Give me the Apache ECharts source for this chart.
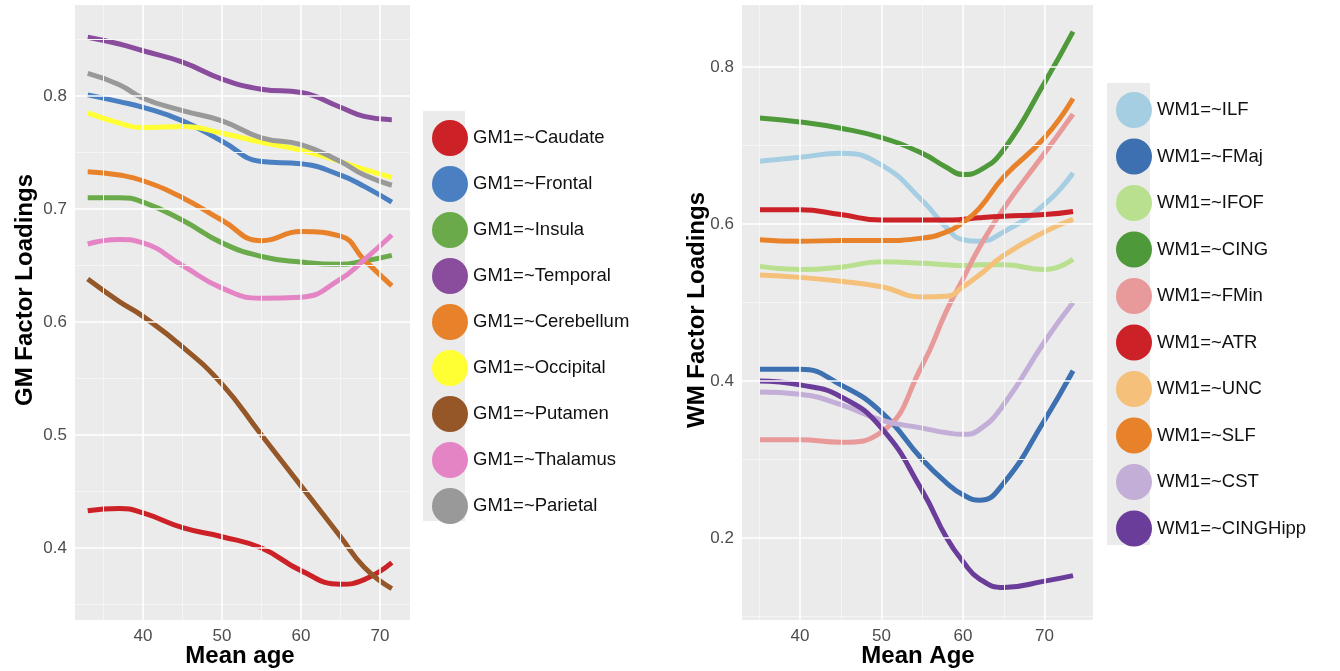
<!DOCTYPE html>
<html>
<head>
<meta charset="utf-8">
<script src="https://cdn.jsdelivr.net/npm/echarts@6/dist/echarts.min.js"></script>
<style>html,body{margin:0;padding:0;background:#fff}#main{width:1340px;height:671px}</style>
</head>
<body>
<div id="main"></div>
<script>
// left panel: grey matter
var gmAges = [33, 37, 40, 45, 50, 55, 60, 65, 68, 71.5]
var gmNames = ['GM1=~Caudate', 'GM1=~Frontal', 'GM1=~Insula', 'GM1=~Temporal', 'GM1=~Cerebellum',
    'GM1=~Occipital', 'GM1=~Putamen', 'GM1=~Thalamus', 'GM1=~Parietal']
var gmColors = ['#cc2127', '#4a7fc1', '#6aaa4b', '#8a4d9e', '#e8822a', '#ffff33', '#955628', '#e584c4', '#999999']
var gmCaudate = [0.433, 0.435, 0.431, 0.418, 0.41, 0.40, 0.38, 0.368, 0.372, 0.387]
var gmFrontal = [0.801, 0.795, 0.79, 0.778, 0.76, 0.742, 0.74, 0.73, 0.72, 0.706]
var gmInsula = [0.71, 0.71, 0.706, 0.69, 0.67, 0.658, 0.653, 0.651, 0.654, 0.659]
var gmTemporal = [0.852, 0.846, 0.84, 0.83, 0.815, 0.806, 0.803, 0.79, 0.782, 0.779]
var gmCerebellum = [0.733, 0.73, 0.725, 0.71, 0.69, 0.672, 0.68, 0.676, 0.655, 0.632]
var gmOccipital = [0.785, 0.776, 0.772, 0.773, 0.767, 0.759, 0.752, 0.742, 0.735, 0.728]
var gmPutamen = [0.638, 0.618, 0.605, 0.578, 0.545, 0.50, 0.455, 0.41, 0.383, 0.364]
var gmThalamus = [0.669, 0.673, 0.67, 0.65, 0.63, 0.621, 0.622, 0.638, 0.655, 0.677]
var gmParietal = [0.82, 0.81, 0.798, 0.787, 0.778, 0.763, 0.757, 0.742, 0.73, 0.721]
var gmValues = [gmCaudate, gmFrontal, gmInsula, gmTemporal, gmCerebellum, gmOccipital, gmPutamen, gmThalamus, gmParietal]

// right panel: white matter
var wmAges = [35, 40, 45, 50, 55, 58, 60, 62, 65, 70, 73.5]
var wmNames = ['WM1=~ILF', 'WM1=~FMaj', 'WM1=~IFOF', 'WM1=~CING', 'WM1=~FMin',
    'WM1=~ATR', 'WM1=~UNC', 'WM1=~SLF', 'WM1=~CST', 'WM1=~CINGHipp']
var wmColors = ['#a6cee3', '#3c70b0', '#b8e08e', '#4e9a3a', '#e89a9a', '#cc2127', '#f4c07a', '#e8822a', '#c2aed6', '#6a3d9a']
var wmILF = [0.68, 0.685, 0.69, 0.675, 0.63, 0.595, 0.58, 0.578, 0.59, 0.625, 0.665]
var wmFMaj = [0.415, 0.415, 0.395, 0.36, 0.30, 0.27, 0.255, 0.248, 0.27, 0.35, 0.413]
var wmIFOF = [0.546, 0.542, 0.545, 0.552, 0.55, 0.548, 0.547, 0.548, 0.548, 0.542, 0.555]
var wmCING = [0.735, 0.73, 0.722, 0.71, 0.69, 0.672, 0.663, 0.668, 0.695, 0.78, 0.845]
var wmFMin = [0.325, 0.325, 0.322, 0.335, 0.42, 0.49, 0.53, 0.57, 0.62, 0.69, 0.74]
var wmATR = [0.618, 0.618, 0.612, 0.605, 0.605, 0.605, 0.606, 0.608, 0.61, 0.612, 0.616]
var wmUNC = [0.535, 0.532, 0.527, 0.52, 0.507, 0.508, 0.52, 0.535, 0.56, 0.59, 0.606]
var wmSLF = [0.58, 0.578, 0.579, 0.579, 0.582, 0.59, 0.602, 0.62, 0.66, 0.71, 0.76]
var wmCST = [0.386, 0.383, 0.37, 0.35, 0.34, 0.334, 0.332, 0.338, 0.37, 0.45, 0.5]
var wmCINGHipp = [0.4, 0.395, 0.38, 0.34, 0.26, 0.2, 0.17, 0.148, 0.137, 0.145, 0.152]
var wmValues = [wmILF, wmFMaj, wmIFOF, wmCING, wmFMin, wmATR, wmUNC, wmSLF, wmCST, wmCINGHipp]

var gmTicks = [0.4, 0.5, 0.6, 0.7, 0.8]
var gmMinor = [0.35, 0.45, 0.55, 0.65, 0.75, 0.85]
var wmTicks = [0.2, 0.4, 0.6, 0.8]
var wmMinor = [0.1, 0.3, 0.5, 0.7]
var ageTicks = [40, 50, 60, 70]
var ageMinor = [35, 45, 55, 65]

function pairs(xs, ys) { return xs.map(function (x, i) { return [x, ys[i]] }) }

var labelStyle = { color: '#4d4d4d', fontSize: 17, fontFamily: 'Liberation Sans' }
function xAxisFor(idx, min, max) {
    return {
        type: 'value', gridIndex: idx, min: min, max: max,
        axisLine: { show: false }, axisTick: { show: false }, splitLine: { show: false },
        axisLabel: Object.assign({ customValues: ageTicks, margin: 8 }, labelStyle)
    }
}
function yAxisFor(idx, min, max, ticks) {
    return {
        type: 'value', gridIndex: idx, min: min, max: max,
        axisLine: { show: false }, axisTick: { show: false }, splitLine: { show: false },
        axisLabel: Object.assign({ customValues: ticks, margin: 8,
            formatter: function (v) { return v.toFixed(1) } }, labelStyle)
    }
}

// grid lines drawn as mark lines on an empty series per panel
function gridLines(idx, xMajor, xMinor, yMajor, yMinor) {
    var d = []
    xMinor.forEach(function (v) { d.push({ xAxis: v, lineStyle: { color: '#f5f5f5', width: 1 } }) })
    yMinor.forEach(function (v) { d.push({ yAxis: v, lineStyle: { color: '#f5f5f5', width: 1 } }) })
    xMajor.forEach(function (v) { d.push({ xAxis: v, lineStyle: { color: '#fff', width: 1.6 } }) })
    yMajor.forEach(function (v) { d.push({ yAxis: v, lineStyle: { color: '#fff', width: 1.6 } }) })
    return { type: 'line', xAxisIndex: idx, yAxisIndex: idx, data: [], z: 1, silent: true,
        markLine: { symbol: 'none', silent: true, label: { show: false }, animation: false,
            lineStyle: { type: 'solid' }, data: d } }
}

var series = [gridLines(0, ageTicks, ageMinor, gmTicks, gmMinor), gridLines(1, ageTicks, ageMinor, wmTicks, wmMinor)]
gmValues.forEach(function (v, i) {
    series.push({ name: gmNames[i], type: 'line', xAxisIndex: 0, yAxisIndex: 0, smooth: 0.5, z: 3,
        showSymbol: false, data: pairs(gmAges, v), color: gmColors[i], lineStyle: { width: 5 } })
})
wmValues.forEach(function (v, i) {
    series.push({ name: wmNames[i], type: 'line', xAxisIndex: 1, yAxisIndex: 1, smooth: 0.5, z: 3,
        showSymbol: false, data: pairs(wmAges, v), color: wmColors[i], lineStyle: { width: 5 } })
})

var legendText = { fontSize: 18.5, color: '#111', fontFamily: 'Liberation Sans' }
var titleStyle = { fontSize: 24, fontWeight: 'bold', fontFamily: 'Liberation Sans', fill: '#000',
    align: 'center', verticalAlign: 'middle' }
var myChart = echarts.init(document.getElementById('main'))
myChart.setOption({
    animation: false,
    grid: [
        { left: 75, top: 5, width: 335, height: 615, show: true, backgroundColor: '#ebebeb', borderWidth: 0 },
        { left: 742, top: 5, width: 351, height: 615, show: true, backgroundColor: '#ebebeb', borderWidth: 0 }
    ],
    xAxis: [xAxisFor(0, 31.39, 73.8), xAxisFor(1, 32.88, 75.95)],
    yAxis: [yAxisFor(0, 0.3363, 0.8805, gmTicks), yAxisFor(1, 0.0955, 0.879, wmTicks)],
    legend: [
        { data: gmNames, orient: 'vertical', left: 427, top: 115, icon: 'circle',
            itemWidth: 36, itemHeight: 36, itemGap: 10, textStyle: legendText, selectedMode: false },
        { data: wmNames, orient: 'vertical', left: 1111, top: 87, icon: 'circle',
            itemWidth: 36, itemHeight: 36, itemGap: 10.5, textStyle: legendText, selectedMode: false }
    ],
    graphic: [
        { type: 'rect', z: -10, shape: { x: 423, y: 111, width: 42, height: 410 }, style: { fill: '#ebebeb' } },
        { type: 'rect', z: -10, shape: { x: 1107, y: 83, width: 43, height: 462 }, style: { fill: '#ebebeb' } },
        { type: 'text', z: 10, x: 240, y: 656, style: Object.assign({ text: 'Mean age' }, titleStyle) },
        { type: 'text', z: 10, x: 918, y: 656, style: Object.assign({ text: 'Mean Age' }, titleStyle) },
        { type: 'text', z: 10, x: 25, y: 290, rotation: Math.PI / 2,
            style: Object.assign({ text: 'GM Factor Loadings' }, titleStyle) },
        { type: 'text', z: 10, x: 697, y: 310, rotation: Math.PI / 2,
            style: Object.assign({ text: 'WM Factor Loadings' }, titleStyle) }
    ],
    series: series
})
</script>
</body>
</html>
